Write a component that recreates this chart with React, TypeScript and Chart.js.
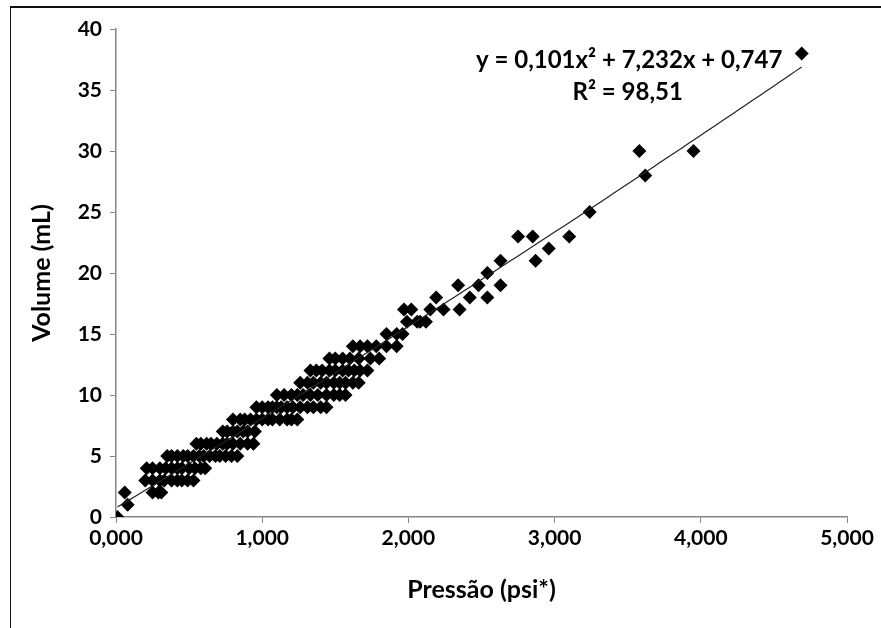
import React, { useEffect, useRef } from 'react';
import { Chart, registerables } from 'chart.js';

Chart.register(...registerables);

// Pressure in thousands of psi (x) and volume in mL (y)
const PRESSURE: number[] = [
  0.01,
  0.08,
  0.06, 0.25, 0.29, 0.31,
  0.2, 0.25, 0.3, 0.33, 0.38, 0.42, 0.45, 0.49, 0.53,
  0.21, 0.25, 0.3, 0.34, 0.38, 0.42, 0.45, 0.5, 0.54, 0.58, 0.61,
  0.35, 0.38, 0.42, 0.46, 0.49, 0.53, 0.57, 0.6, 0.64, 0.68, 0.71, 0.75, 0.79, 0.83,
  0.55, 0.58, 0.62, 0.65, 0.69, 0.73, 0.76, 0.8, 0.85, 0.9, 0.94,
  0.73, 0.76, 0.8, 0.83, 0.87, 0.9, 0.95,
  0.8, 0.85, 0.88, 0.92, 0.96, 1.0, 1.04, 1.07, 1.12, 1.17, 1.2, 1.24,
  0.96, 1.0, 1.04, 1.07, 1.1, 1.13, 1.17, 1.21, 1.26, 1.31, 1.35, 1.4, 1.44,
  1.1, 1.15, 1.2, 1.24, 1.28, 1.33, 1.38, 1.44, 1.49, 1.53, 1.57,
  1.26, 1.31, 1.35, 1.4, 1.44, 1.49, 1.53, 1.57, 1.62, 1.66,
  1.33, 1.37, 1.41, 1.46, 1.5, 1.55, 1.59, 1.63, 1.67, 1.72,
  1.46, 1.5, 1.55, 1.6, 1.66, 1.74, 1.8,
  1.62, 1.67, 1.72, 1.78, 1.85, 1.92,
  1.85, 1.92, 1.96,
  1.99, 2.06, 2.08, 2.12,
  1.97, 2.02, 2.15, 2.24, 2.35,
  2.19, 2.42, 2.54,
  2.34, 2.48, 2.63,
  2.54,
  2.63, 2.87,
  2.96,
  2.75, 2.85, 3.1,
  3.24,
  3.62,
  3.58, 3.95,
  4.69,
];

const VOLUME: number[] = [
  0,
  1,
  2, 2, 2, 2,
  3, 3, 3, 3, 3, 3, 3, 3, 3,
  4, 4, 4, 4, 4, 4, 4, 4, 4, 4, 4,
  5, 5, 5, 5, 5, 5, 5, 5, 5, 5, 5, 5, 5, 5,
  6, 6, 6, 6, 6, 6, 6, 6, 6, 6, 6,
  7, 7, 7, 7, 7, 7, 7,
  8, 8, 8, 8, 8, 8, 8, 8, 8, 8, 8, 8,
  9, 9, 9, 9, 9, 9, 9, 9, 9, 9, 9, 9, 9,
  10, 10, 10, 10, 10, 10, 10, 10, 10, 10, 10,
  11, 11, 11, 11, 11, 11, 11, 11, 11, 11,
  12, 12, 12, 12, 12, 12, 12, 12, 12, 12,
  13, 13, 13, 13, 13, 13, 13,
  14, 14, 14, 14, 14, 14,
  15, 15, 15,
  16, 16, 16, 16,
  17, 17, 17, 17, 17,
  18, 18, 18,
  19, 19, 19,
  20,
  21, 21,
  22,
  23, 23, 23,
  25,
  28,
  30, 30,
  38,
];

const X_MIN = 0;
const X_MAX = 5;
const X_STEP = 1;
const Y_MIN = 0;
const Y_MAX = 40;
const Y_STEP = 5;

// Polynomial trendline coefficients shown on the chart: y = C2 x² + C1 x + C0
const TREND_C0 = 0.747;
const TREND_C1 = 7.232;
const TREND_C2 = 0.101;

const EQ_TEXT = 'y = 0,101x² + 7,232x + 0,747';
const R2_TEXT = 'R² = 98,51';
const X_TITLE = 'Pressão (psi*)';
const Y_TITLE = 'Volume (mL)';

const FONT = 'Lato, "Open Sans", sans-serif';
const AXIS_GRAY = '#868686';

export default function App() {
  const ref = useRef<HTMLCanvasElement | null>(null);

  useEffect(() => {
    const canvas = ref.current;
    if (!canvas) return;

    const trendPlugin = {
      id: 'trendline',
      afterDatasetsDraw(chart: any) {
        const { ctx } = chart;
        const xs = chart.scales.x;
        const ys = chart.scales.y;
        const xmin = Math.min(...PRESSURE);
        const xmax = Math.max(...PRESSURE);
        ctx.save();
        ctx.beginPath();
        const n = 120;
        for (let i = 0; i <= n; i++) {
          const xv = xmin + ((xmax - xmin) * i) / n;
          const yv = TREND_C0 + TREND_C1 * xv + TREND_C2 * xv * xv;
          const px = xs.getPixelForValue(xv);
          const py = ys.getPixelForValue(yv);
          if (i === 0) ctx.moveTo(px, py);
          else ctx.lineTo(px, py);
        }
        ctx.strokeStyle = '#222';
        ctx.lineWidth = 1.2;
        ctx.stroke();

        ctx.fillStyle = '#000';
        ctx.textAlign = 'center';
        ctx.textBaseline = 'middle';
        ctx.font = `bold 24px ${FONT}`;
        ctx.fillText(EQ_TEXT, xs.getPixelForValue(3.51), ys.getPixelForValue(37.45));
        ctx.fillText(R2_TEXT, xs.getPixelForValue(3.5), ys.getPixelForValue(34.8));
        ctx.restore();
      },
    };

    const data = PRESSURE.map((p, i) => ({ x: p, y: VOLUME[i] }));

    const chart = new Chart(canvas, {
      type: 'scatter',
      data: {
        datasets: [
          {
            label: 'Volume',
            data,
            pointStyle: 'rectRot',
            pointRadius: 7,
            pointBorderWidth: 0,
            backgroundColor: '#000',
            borderColor: '#000',
          },
        ],
      },
      options: {
        responsive: false,
        animation: false,
        devicePixelRatio: 1,
        layout: { padding: { top: 29, right: 34, left: 0, bottom: 0 } },
        plugins: {
          legend: { display: false },
          tooltip: { enabled: false },
        },
        scales: {
          x: {
            type: 'linear',
            min: X_MIN,
            max: X_MAX,
            afterFit: (s: any) => {
              s.height = 111;
            },
            ticks: {
              stepSize: X_STEP,
              color: '#000',
              padding: 3,
              font: { family: FONT, size: 21, weight: 'bold' },
              callback: (v: any) => Number(v).toFixed(3).replace('.', ','),
            },
            grid: {
              display: true,
              drawOnChartArea: false,
              drawTicks: true,
              tickLength: 6,
              color: AXIS_GRAY,
            },
            border: { display: true, color: AXIS_GRAY, width: 1.5 },
            title: {
              display: true,
              text: X_TITLE,
              color: '#000',
              font: { family: FONT, size: 25, weight: 'bold' },
              padding: { top: 0, bottom: 23 },
            },
          },
          y: {
            type: 'linear',
            min: Y_MIN,
            max: Y_MAX,
            afterFit: (s: any) => {
              s.width = 116;
            },
            ticks: {
              stepSize: Y_STEP,
              color: '#000',
              padding: 8,
              font: { family: FONT, size: 21, weight: 'bold' },
            },
            grid: {
              display: true,
              drawOnChartArea: false,
              drawTicks: true,
              tickLength: 6,
              color: AXIS_GRAY,
            },
            border: { display: true, color: AXIS_GRAY, width: 1.5 },
            title: {
              display: true,
              text: Y_TITLE,
              color: '#000',
              font: { family: FONT, size: 25, weight: 'bold' },
              padding: { top: 27, bottom: 0 },
            },
          },
        },
      },
      plugins: [trendPlugin],
    });

    return () => {
      chart.destroy();
    };
  }, []);

  return (
    <div
      style={{
        position: 'absolute',
        left: 0,
        top: 0,
        width: 881,
        height: 628,
        background: '#fff',
        overflow: 'hidden',
      }}
    >
      <canvas ref={ref} width={881} height={628} style={{ display: 'block', width: 881, height: 628 }} />
      <div
        style={{
          position: 'absolute',
          left: 10,
          top: 6,
          right: -2,
          bottom: -2,
          borderTop: '2px solid #111',
          borderLeft: '1px solid #111',
          pointerEvents: 'none',
        }}
      />
    </div>
  );
}
